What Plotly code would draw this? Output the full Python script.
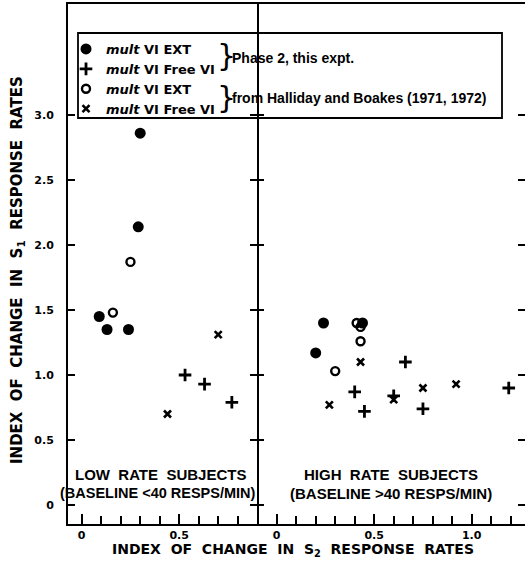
import plotly.graph_objects as go

# ---------------- data ----------------
# Low rate subjects (left panel)
lo_ext_x = [0.30, 0.29, 0.09, 0.13, 0.24]
lo_ext_y = [2.86, 2.14, 1.45, 1.35, 1.35]
lo_free_x = [0.53, 0.63, 0.77]
lo_free_y = [1.00, 0.93, 0.79]
lo_hb_ext_x = [0.25, 0.16]
lo_hb_ext_y = [1.87, 1.48]
lo_hb_free_x = [0.70, 0.44]
lo_hb_free_y = [1.31, 0.70]

# High rate subjects (right panel)
hi_ext_x = [0.24, 0.20, 0.44]
hi_ext_y = [1.40, 1.17, 1.40]
hi_free_x = [0.66, 0.40, 0.45, 0.60, 0.75, 1.19]
hi_free_y = [1.10, 0.87, 0.72, 0.84, 0.74, 0.90]
hi_hb_ext_x = [0.41, 0.43, 0.43, 0.30]
hi_hb_ext_y = [1.40, 1.37, 1.26, 1.03]
hi_hb_free_x = [0.43, 0.27, 0.60, 0.75, 0.92]
hi_hb_free_y = [1.10, 0.77, 0.81, 0.90, 0.93]

y_ticks = [0, 0.5, 1.0, 1.5, 2.0, 2.5, 3.0]
y_tick_text = ["<b>0</b>", "<b>0.5</b>", "<b>1.0</b>", "<b>1.5</b>",
               "<b>2.0</b>", "<b>2.5</b>", "<b>3.0</b>"]
lo_x_ticks = [0, 0.5]
lo_x_text = ["<b>0</b>", "<b>0.5</b>"]
hi_x_ticks = [0, 0.5, 1.0]
hi_x_text = ["<b>0</b>", "<b>0.5</b>", "<b>1.0</b>"]

legend_names = ["<b><i>mult</i> VI EXT</b>", "<b><i>mult</i> VI Free VI</b>",
                "<b><i>mult</i> VI EXT</b>", "<b><i>mult</i> VI Free VI</b>"]

# ---------------- layout geometry ----------------
W, H = 525, 566
L, R, T, B = 68, 0, 4, 42
PW, PH = W - L - R, H - T - B


def px(x):
    return (x - L) / PW


def py(y):
    return (H - B - y) / PH


FONT = "Liberation Sans"
WIDE = "DejaVu Sans"
BLACK = "black"

styles = [
    dict(symbol="circle", size=11, color=BLACK),
    dict(symbol="cross-thin", size=9, color=BLACK, line=dict(width=2.8, color=BLACK)),
    dict(symbol="circle-open", size=8, color=BLACK, line=dict(width=2.4, color=BLACK)),
    dict(symbol="x-thin", size=7, color=BLACK, line=dict(width=2.6, color=BLACK)),
]

fig = go.Figure()

lo_sets = [(lo_ext_x, lo_ext_y), (lo_free_x, lo_free_y),
           (lo_hb_ext_x, lo_hb_ext_y), (lo_hb_free_x, lo_hb_free_y)]
hi_sets = [(hi_ext_x, hi_ext_y), (hi_free_x, hi_free_y),
           (hi_hb_ext_x, hi_hb_ext_y), (hi_hb_free_x, hi_hb_free_y)]

for i, (xs, ys) in enumerate(lo_sets):
    fig.add_trace(go.Scatter(x=xs, y=ys, mode="markers", marker=styles[i],
                             name=legend_names[i], legendgroup=str(i),
                             xaxis="x", yaxis="y"))
for i, (xs, ys) in enumerate(hi_sets):
    fig.add_trace(go.Scatter(x=xs, y=ys, mode="markers", marker=styles[i],
                             name=legend_names[i], legendgroup=str(i),
                             showlegend=False, xaxis="x2", yaxis="y2"))

split = px(257)
yrange = [(505 - 524) / 130, (505 - 4) / 130]

minor = dict(dtick=0.1, tick0=0, ticks="inside", ticklen=8,
             tickwidth=2, tickcolor=BLACK)

fig.update_layout(
    template="none",
    width=W, height=H,
    font=dict(family=WIDE, size=11, color=BLACK),
    margin=dict(l=L, r=R, t=T, b=B, autoexpand=False),
    paper_bgcolor="white", plot_bgcolor="white",
    xaxis=dict(domain=[0, split], range=[(68 - 81.7) / 195, (257 - 81.7) / 195],
               tickmode="array", tickvals=lo_x_ticks, ticktext=lo_x_text,
               ticks="inside", ticklen=10, tickwidth=2, tickcolor=BLACK,
               showline=True, linecolor=BLACK, linewidth=2, mirror=True,
               showgrid=False, zeroline=False, anchor="y", minor=minor),
    xaxis2=dict(domain=[split, 1], range=[(257 - 276.7) / 195, (525 - 276.7) / 195],
                tickmode="array", tickvals=hi_x_ticks, ticktext=hi_x_text,
                ticks="inside", ticklen=10, tickwidth=2, tickcolor=BLACK,
                showline=True, linecolor=BLACK, linewidth=2, mirror=True,
                showgrid=False, zeroline=False, anchor="y2", minor=minor),
    yaxis=dict(domain=[0, 1], range=yrange, tickmode="array", tickvals=y_ticks,
               ticktext=y_tick_text, ticks="inside", ticklen=7, tickwidth=2,
               tickcolor=BLACK, showline=True, linecolor=BLACK, linewidth=2,
               mirror="ticks", showgrid=False, zeroline=False,
               anchor="x", ticklabelstandoff=10),
    yaxis2=dict(domain=[0, 1], range=yrange, tickmode="array", tickvals=y_ticks,
                showticklabels=False, ticks="inside", ticklen=7, tickwidth=2,
                tickcolor=BLACK, showline=True, linecolor="rgba(0,0,0,0)",
                linewidth=2, mirror="ticks", showgrid=False, zeroline=False,
                anchor="x2"),
    showlegend=True,
    legend=dict(x=px(66), y=py(34), xanchor="left", yanchor="top",
                bgcolor="rgba(0,0,0,0)", borderwidth=0, tracegroupgap=0,
                font=dict(family=WIDE, size=13, color=BLACK), itemsizing="trace"),
)

# legend frame
fig.add_shape(type="rect", xref="paper", yref="paper",
              x0=px(78), x1=px(502), y0=py(118), y1=py(33),
              line=dict(color=BLACK, width=1.8), fillcolor="rgba(0,0,0,0)")

annotations = [
    dict(text="}", x=px(226), y=py(56), font=dict(family="DejaVu Sans", size=30, color=BLACK)),
    dict(text="}", x=px(226), y=py(97), font=dict(family="DejaVu Sans", size=30, color=BLACK)),
    dict(text="<b>Phase 2, this expt.</b>", x=px(230), y=py(58), xanchor="left",
         font=dict(family=FONT, size=14, color=BLACK)),
    dict(text="<b>from Halliday and Boakes (1971, 1972)</b>", x=px(230), y=py(98),
         xanchor="left", font=dict(family=FONT, size=14, color=BLACK)),
    dict(text="<b>LOW  RATE  SUBJECTS</b>", x=px(160), y=py(474),
         font=dict(family=FONT, size=15, color=BLACK)),
    dict(text="<b>(BASELINE <40 RESPS/MIN)</b>", x=px(158), y=py(493),
         font=dict(family=FONT, size=14.5, color=BLACK)),
    dict(text="<b>HIGH  RATE  SUBJECTS</b>", x=px(391), y=py(474),
         font=dict(family=FONT, size=15, color=BLACK)),
    dict(text="<b>(BASELINE >40 RESPS/MIN)</b>", x=px(391), y=py(493),
         font=dict(family=FONT, size=15, color=BLACK)),
    dict(text="<b>INDEX  OF  CHANGE  IN  S<sub>2</sub>  RESPONSE  RATES</b>",
         x=px(293), y=py(550), font=dict(family=WIDE, size=14, color=BLACK)),
    dict(text="<b>INDEX  OF  CHANGE  IN  S<sub>1</sub>  RESPONSE  RATES</b>",
         x=px(17), y=py(270), textangle=-90,
         font=dict(family=WIDE, size=15, color=BLACK)),
]
for a in annotations:
    a.setdefault("xanchor", "center")
    fig.add_annotation(xref="paper", yref="paper", yanchor="middle",
                       showarrow=False, **a)

fig.write_html("out.html", config={"displayModeBar": False},
               post_script="document.body.style.margin='0px';")
